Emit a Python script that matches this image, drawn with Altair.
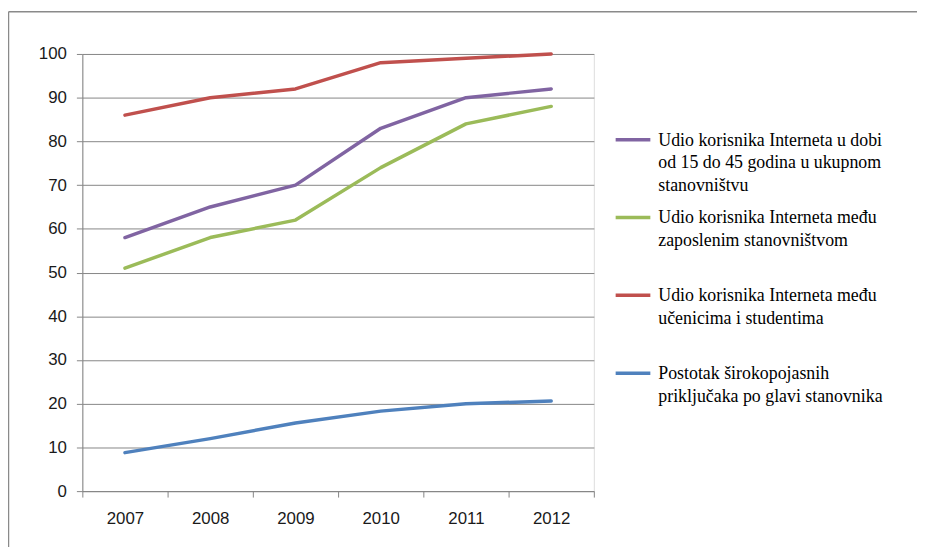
import altair as alt
import pandas as pd

years = ["2007", "2008", "2009", "2010", "2011", "2012"]
series_names = [
    "Udio korisnika Interneta u dobi\nod 15 do 45 godina u ukupnom\nstanovništvu",
    "Udio korisnika Interneta među\nzaposlenim stanovništvom",
    "Udio korisnika Interneta među\nučenicima i studentima",
    "Postotak širokopojasnih\npriključaka po glavi stanovnika",
]
purple_vals = [58, 65, 70, 83, 90, 92]
green_vals = [51, 58, 62, 74, 84, 88]
red_vals = [86, 90, 92, 98, 99, 100]
blue_vals = [8.8, 12, 15.6, 18.3, 20, 20.6]
colors = ["#8064A2", "#9BBB59", "#C0504D", "#4F81BD"]

rows = []
for name, vals in zip(series_names, [purple_vals, green_vals, red_vals, blue_vals]):
    for y, v in zip(years, vals):
        rows.append({"year": y, "value": v, "series": name})
df = pd.DataFrame(rows)

W, H = 516, 441
PL, PT = 75, 44
DY = -8  # vertical nudge of guide labels (legend text onto its stroke)

# every legend label padded to three lines so that all entries have equal height
label_expr = "slice(split(datum.label + '\\n\\n', '\\n'), 0, 3)"

lines = alt.Chart(df).mark_line(strokeWidth=3.5, strokeCap="round", strokeJoin="round").encode(
    x=alt.X("year:O", bandPosition=0.5, title=None,
            scale=alt.Scale(type="band", paddingInner=0, paddingOuter=0),
            axis=alt.Axis(labelAngle=0, tickBand="extent", tickSize=6, labelPadding=14 - DY,
                          domainColor="#868686", tickColor="#868686", grid=False,
                          labelFont="Liberation Sans", labelFontSize=17, labelColor="#1a1a1a")),
    y=alt.Y("value:Q", title=None,
            scale=alt.Scale(domain=[0, 100], nice=False),
            axis=alt.Axis(values=list(range(0, 101, 10)), tickSize=6, labelPadding=10,
                          labelBaseline="top",
                          domainColor="#868686", tickColor="#868686", gridColor="#868686",
                          gridWidth=1, labelFont="Liberation Sans", labelFontSize=17,
                          labelColor="#1a1a1a")),
    color=alt.Color("series:N", title=None,
                    scale=alt.Scale(domain=series_names, range=colors),
                    sort=series_names,
                    legend=alt.Legend(orient="none", legendX=536, legendY=67,
                                      symbolType="stroke", symbolSize=1225,
                                      symbolStrokeWidth=3.5, labelFont="Liberation Serif",
                                      labelFontSize=18, labelColor="#000000",
                                      labelLimit=400, labelOffset=6, rowPadding=2.5,
                                      labelBaseline="top",
                                      labelExpr=label_expr)),
)

frame_data = alt.Data(values=[{"a": 1}])
frame_top = alt.Chart(frame_data).mark_rule(color="#8a8a8a", strokeWidth=1.5).encode(
    x=alt.value(-PL + 0.5), x2=alt.value(917), y=alt.value(-PT + 1.5))
frame_left = alt.Chart(frame_data).mark_rule(color="#8a8a8a", strokeWidth=1.5).encode(
    x=alt.value(-PL + 0.5), y=alt.value(-PT + 1.5), y2=alt.value(H + 60))

chart = alt.layer(frame_top, frame_left, lines).properties(
    width=W, height=H,
    autosize=alt.AutoSizeParams(type="none"),
    padding={"left": PL, "top": PT, "right": 917 - PL - W, "bottom": 539 - PT - H},
).configure_view(stroke=None).configure(style={"guide-label": {"lineHeight": 23, "dy": DY}})

chart.save("out.html", embed_options={"renderer": "svg", "actions": False})
